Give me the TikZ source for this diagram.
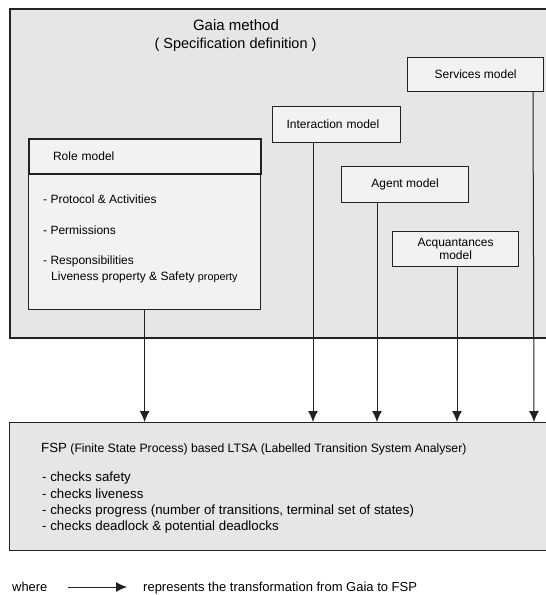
\documentclass[tikz,border=0pt]{standalone}
\usepackage{fontspec}
\setmainfont{Liberation Sans}
\usetikzlibrary{arrows.meta}

\definecolor{panelgray}{HTML}{E6E6E6}
\definecolor{boxgray}{HTML}{F2F2F2}
\definecolor{edgegray}{HTML}{222222}

\newcommand{\fsz}[1]{\fontsize{#1}{#1}\selectfont}

\begin{document}
\begin{tikzpicture}[x=1pt, y=-1pt,
  panel/.style={draw=edgegray, line width=1.3pt, fill=panelgray},
  modelbox/.style={draw=edgegray, line width=1.2pt, fill=boxgray, inner sep=0pt,
    anchor=north west, font=\fsz{12}, align=center},
  headbox/.style={modelbox, line width=2pt},
  txt/.style={inner sep=0pt, anchor=base west},
  arr/.style={draw=edgegray, line width=1pt, -{Latex[length=11pt, width=10pt]}}
]
\useasboundingbox (0,0) rectangle (546,595);
\clip (0,0) rectangle (546,595);

% Gaia specification panel (runs off the right edge)
\draw[panel] (10,9) rectangle (560,338);
\node[inner sep=0pt, anchor=base, font=\fsz{15}] (gaia) at (236,30.5) {Gaia method};
\node[inner sep=0pt, anchor=base, font=\fsz{14.5}] (spec) at (235.5,48) {( Specification definition )};

% Model boxes
\node[modelbox, minimum width=136, minimum height=34] (svc) at (407,57) {Services model};
\node[modelbox, minimum width=128, minimum height=36, text width=100, align=left] (inter) at (272,106) {Interaction model};
\node[modelbox, minimum width=127, minimum height=36] (agent) at (341,166) {Agent model};
\node[modelbox, minimum width=126, minimum height=35, font=\fontsize{12}{13.5}\selectfont] (acq) at (392,231) {Acquantances\\model};

% Role model: header and body
\node[modelbox, minimum width=232, minimum height=136] (rolebody) at (28,173) {};
\node[headbox, minimum width=232, minimum height=35, text width=184, align=left] (rolehead) at (28,138) {Role model};
\node[txt, font=\fsz{12}] (r1) at (43,203.3) {- Protocol \& Activities};
\node[txt, font=\fsz{12}] (r2) at (43,234.3) {- Permissions};
\node[txt, font=\fsz{12}] (r3) at (43,264.3) {- Responsibilities};
\node[txt, font=\fsz{12}] (r4) at (51,280.3) {Liveness property \& Safety {\fsz{10.8}property}};

% FSP / LTSA panel (runs off the right edge)
\node[panel, inner sep=0pt, minimum width=551, minimum height=128, anchor=north west] (fsp) at (9,422) {};
\node[txt, font=\fsz{12.2}] (f0) at (41,452.8) {{\fsz{13.3}FSP} (Finite State Process) based LTSA (Labelled Transition System Analyser)};
\node[txt, font=\fsz{13.3}] (f1) at (42,481.5) {- checks safety};
\node[txt, font=\fsz{13.3}] (f2) at (42,498.3) {- checks liveness};
\node[txt, font=\fsz{13.3}] (f3) at (42,514.5) {- checks progress (number of transitions, terminal set of states)};
\node[txt, font=\fsz{13.3}] (f4) at (42,530.8) {- checks deadlock \& potential deadlocks};

% Transformations Gaia -> FSP
\draw[arr] (rolebody.south) -- (rolebody.south |- fsp.north);
\draw[arr] (inter.south -| 313,0) -- (fsp.north -| 313,0);
\draw[arr] (agent.south -| 377,0) -- (fsp.north -| 377,0);
\draw[arr] (acq.south -| 457,0) -- (fsp.north -| 457,0);
\draw[arr] (svc.south -| 533,0) -- (fsp.north -| 534,0);

% Legend
\node[txt, font=\fsz{12.9}] (where) at (12,591.5) {where};
\node[txt, font=\fsz{13}] (means) at (143,591.5) {represents the transformation from Gaia to FSP};
\coordinate (lgA) at (68,587);
\coordinate (lgB) at (127,587);
\draw[arr] (lgA) -- (lgB);
\end{tikzpicture}
\end{document}
